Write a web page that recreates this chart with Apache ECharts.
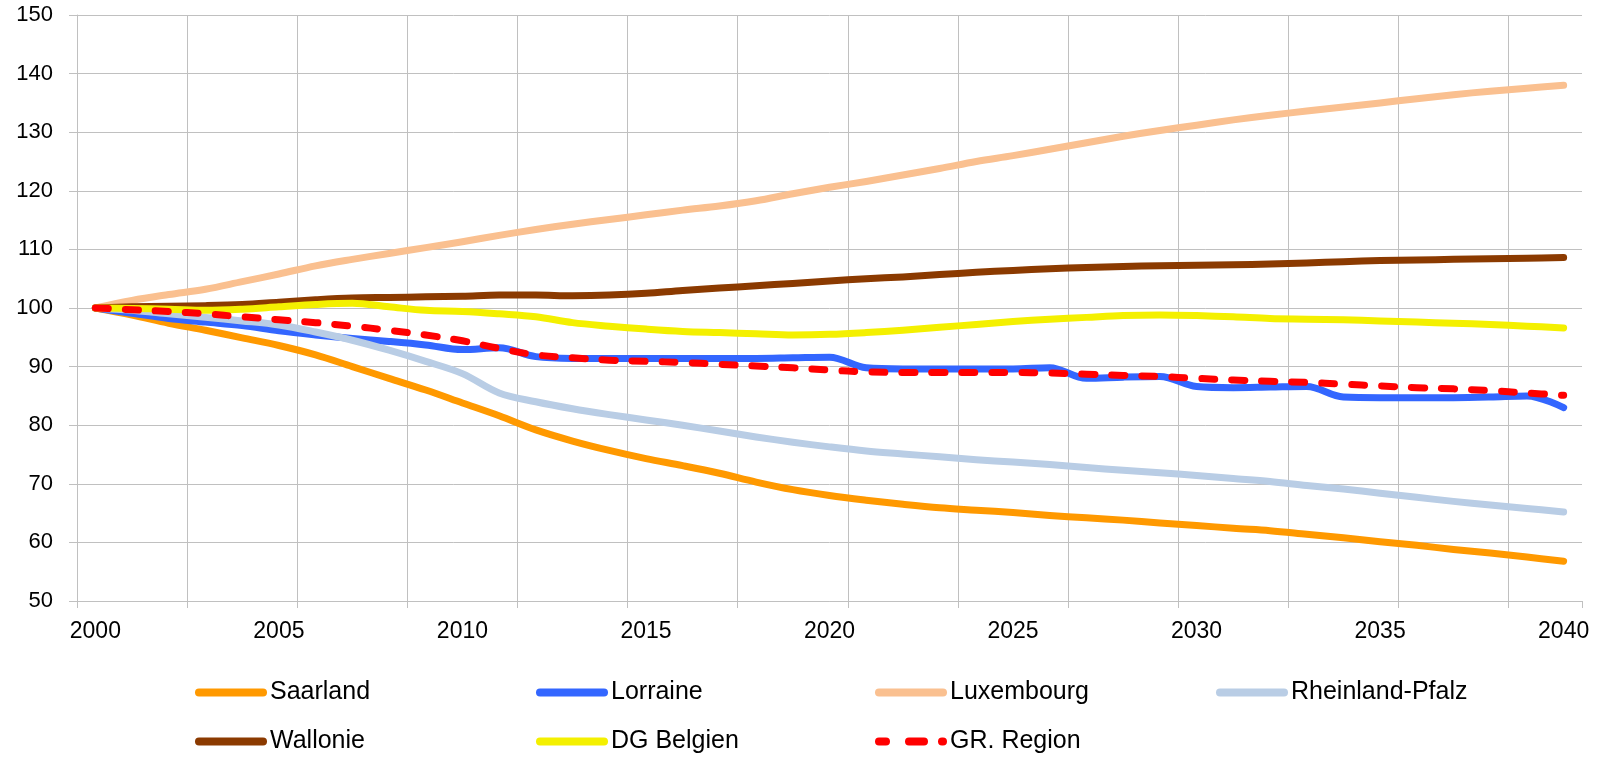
<!DOCTYPE html>
<html>
<head>
<meta charset="utf-8">
<script src="https://cdn.jsdelivr.net/npm/echarts@6/dist/echarts.min.js"></script>
<style>
html,body{margin:0;padding:0;background:#fff;}
#chart{width:1601px;height:757px;}
</style>
</head>
<body>
<div id="chart"></div>
<script>
var years = [];
for (var y = 2000; y <= 2040; y++) years.push(String(y));

var yTicks = [50, 60, 70, 80, 90, 100, 110, 120, 130, 140, 150];

var seriesNames = ['Saarland', 'Lorraine', 'Luxembourg', 'Rheinland-Pfalz', 'Wallonie', 'DG Belgien', 'GR. Region'];

var saarland = [100, 98.8, 97.4, 96.2, 94.9, 93.6, 92.0, 90.0, 88.0, 86.0, 83.8, 81.6, 79.2, 77.3, 75.7, 74.3, 73.1, 71.8, 70.3, 69.0, 68.0, 67.2, 66.5, 65.9, 65.5, 65.1, 64.6, 64.2, 63.8, 63.3, 62.9, 62.4, 62.0, 61.4, 60.8, 60.1, 59.5, 58.8, 58.2, 57.5, 56.8];
var lorraine = [100, 99.1, 98.2, 97.6, 97.0, 96.1, 95.4, 94.8, 94.3, 93.7, 92.9, 93.2, 91.7, 91.4, 91.4, 91.4, 91.4, 91.4, 91.4, 91.5, 91.6, 89.8, 89.6, 89.6, 89.6, 89.6, 89.8, 88.0, 88.2, 88.3, 86.6, 86.4, 86.5, 86.6, 84.8, 84.7, 84.7, 84.7, 84.8, 85.0, 83.0];
var luxembourg = [100, 101.3, 102.3, 103.2, 104.5, 105.8, 107.2, 108.3, 109.3, 110.3, 111.3, 112.4, 113.4, 114.3, 115.1, 115.9, 116.7, 117.4, 118.3, 119.5, 120.6, 121.6, 122.7, 123.8, 125.0, 126.0, 127.1, 128.2, 129.3, 130.3, 131.2, 132.1, 132.9, 133.6, 134.3, 135.0, 135.7, 136.4, 137.0, 137.5, 138.0];
var rheinlandPfalz = [100, 99.6, 99.0, 98.4, 97.8, 97.1, 95.9, 94.5, 92.8, 90.9, 88.8, 85.5, 84.0, 82.8, 81.8, 80.9, 80.0, 79.0, 78.0, 77.1, 76.3, 75.6, 75.1, 74.6, 74.1, 73.7, 73.3, 72.8, 72.3, 71.9, 71.4, 70.9, 70.4, 69.7, 69.1, 68.4, 67.7, 67.0, 66.4, 65.8, 65.2];
var wallonie = [100, 100.2, 100.3, 100.4, 100.6, 101.0, 101.4, 101.7, 101.8, 101.9, 102.0, 102.2, 102.2, 102.1, 102.2, 102.5, 103.0, 103.4, 103.8, 104.2, 104.6, 105.0, 105.3, 105.7, 106.1, 106.4, 106.7, 106.9, 107.1, 107.2, 107.3, 107.4, 107.5, 107.7, 107.9, 108.1, 108.2, 108.3, 108.4, 108.5, 108.6];
var dgBelgien = [100, 99.9, 99.8, 99.6, 99.8, 100.2, 100.6, 100.8, 100.2, 99.6, 99.4, 99.0, 98.5, 97.5, 96.9, 96.4, 96.0, 95.8, 95.6, 95.4, 95.5, 95.8, 96.2, 96.7, 97.2, 97.7, 98.1, 98.4, 98.7, 98.8, 98.7, 98.5, 98.2, 98.1, 98.0, 97.8, 97.6, 97.4, 97.2, 96.9, 96.6];
var grRegion = [100, 99.7, 99.4, 99.0, 98.5, 98.0, 97.5, 96.9, 96.2, 95.4, 94.4, 93.1, 92.0, 91.5, 91.1, 90.9, 90.7, 90.4, 90.1, 89.8, 89.4, 89.1, 89.0, 89.0, 89.0, 89.0, 88.9, 88.7, 88.5, 88.3, 88.0, 87.7, 87.5, 87.3, 87.0, 86.7, 86.4, 86.2, 85.9, 85.5, 85.1];

var colors = ['#FF9900', '#3366FF', '#FAC090', '#B9CDE5', '#8B3A00', '#F4F000', '#FF0000'];
var dataSets = [saarland, lorraine, luxembourg, rheinlandPfalz, wallonie, dgBelgien, grRegion];

var FONT = "'Liberation Sans', Arial, sans-serif";
var solidIcon = 'path://M4,0 L68,0 A4,4,0,0,1,68,8 L4,8 A4,4,0,0,1,4,0 Z';
var dashIcon = 'path://M4,0 L11,0 A4,4,0,0,1,11,8 L4,8 A4,4,0,0,1,4,0 Z M34,0 L49,0 A4,4,0,0,1,49,8 L34,8 A4,4,0,0,1,34,0 Z M67,0 L68,0 A4,4,0,0,1,68,8 L67,8 A4,4,0,0,1,67,0 Z';

var legendPos = [
  [195, 680], [536, 680], [875, 680], [1216, 680],
  [195, 729], [536, 729], [875, 729]
];

var legends = seriesNames.map(function (n, i) {
  return {
    data: [n],
    left: legendPos[i][0],
    top: legendPos[i][1],
    padding: 0,
    itemGap: 0,
    itemWidth: 72,
    itemHeight: 8,
    icon: i === 6 ? dashIcon : solidIcon,
    itemStyle: { borderWidth: 0 },
    textStyle: { fontSize: 25, color: '#000', fontFamily: FONT, padding: [0, 0, 0, -2] },
    selectedMode: false
  };
});

var gridColors = [];
for (var k = 0; k < 14; k++) gridColors.push('#C0C0C0');
gridColors.push('rgba(0,0,0,0)');

var series = seriesNames.map(function (n, i) {
  var s = {
    name: n,
    type: 'line',
    data: dataSets[i],
    smooth: 0.35,
    symbol: 'none',
    color: colors[i],
    lineStyle: { width: 7, color: colors[i], cap: 'round', join: 'round' },
    z: 2 + i,
    animation: false
  };
  if (i === 6) {
    s.lineStyle.type = [13, 17];
  }
  return s;
});

var chart = echarts.init(document.getElementById('chart'));
chart.setOption({
  animation: false,
  backgroundColor: '#fff',
  legend: legends,
  grid: { left: 77, right: 19, top: 15, bottom: 156, containLabel: false },
  xAxis: {
    type: 'category',
    data: years,
    boundaryGap: true,
    axisLine: { show: true, lineStyle: { color: '#C0C0C0', width: 1 } },
    axisTick: { show: true, length: 7, interval: function (i) { return i % 3 === 0; }, lineStyle: { color: '#C0C0C0' } },
    splitLine: { show: true, interval: function (i) { return i % 3 === 0; }, lineStyle: { color: gridColors, width: 1 } },
    axisLabel: { interval: 4, fontSize: 23, color: '#000', fontFamily: FONT, margin: 19 }
  },
  yAxis: {
    type: 'value',
    min: yTicks[0],
    max: yTicks[yTicks.length - 1],
    interval: 10,
    axisLine: { show: true, lineStyle: { color: '#C0C0C0', width: 1 } },
    axisTick: { show: true, length: 8, lineStyle: { color: '#C0C0C0' } },
    splitLine: { show: true, lineStyle: { color: '#C0C0C0', width: 1 } },
    axisLabel: { fontSize: 22, color: '#000', fontFamily: FONT, margin: 24 }
  },
  series: series
});
</script>
</body>
</html>
